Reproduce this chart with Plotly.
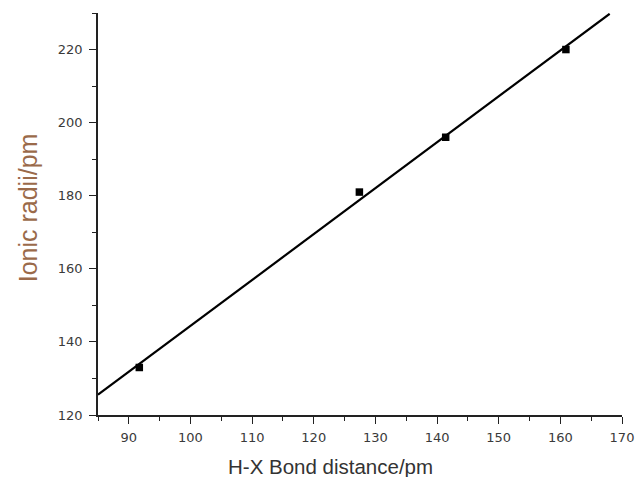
import numpy as np
import plotly.graph_objects as go

# Data
bond_distance = [91.7, 127.4, 141.4, 160.9]   # H-X bond distance / pm
ionic_radii = [133, 181, 196, 220]            # ionic radius / pm
fit_x_range = [85, 168]                       # extent of fitted line

x_ticks = [90, 100, 110, 120, 130, 140, 150, 160, 170]
y_ticks = [120, 140, 160, 180, 200, 220]

slope, intercept = np.polyfit(bond_distance, ionic_radii, 1)
fit_x = np.array(fit_x_range, dtype=float)
fit_y = slope * fit_x + intercept

fig = go.Figure()
fig.add_trace(go.Scatter(
    x=fit_x, y=fit_y, mode="lines",
    line=dict(color="black", width=2.2), showlegend=False, hoverinfo="skip"))
fig.add_trace(go.Scatter(
    x=bond_distance, y=ionic_radii, mode="markers",
    marker=dict(symbol="square", size=7.5, color="black"), showlegend=False))

axis_common = dict(
    showgrid=False, zeroline=False, showline=True, linecolor="#222",
    linewidth=1.5, ticks="outside", ticklen=7, tickwidth=1.3, tickcolor="#222",
    tickfont=dict(family="DejaVu Sans", size=13, color="#3a3a3a"),
    mirror=False, automargin=False, ticklabeloverflow="allow",
)

fig.update_layout(
    width=638, height=477, autosize=False,
    margin=dict(l=97.5, r=16, t=13, b=62),
    paper_bgcolor="white", plot_bgcolor="white",
    xaxis=dict(range=[85, 170], tickvals=x_ticks, ticklabelstandoff=3,
               minor=dict(dtick=5, tick0=85, ticks="outside", ticklen=4,
                          tickwidth=1.3, tickcolor="#222"),
               **axis_common),
    yaxis=dict(range=[120, 230], tickvals=y_ticks, ticklabelstandoff=4,
               minor=dict(dtick=10, tick0=120, ticks="outside", ticklen=4,
                          tickwidth=1.3, tickcolor="#222"),
               **axis_common),
    annotations=[
        dict(text="H-X Bond distance/pm", xref="paper", yref="paper",
             x=0.443, y=-0.127, xanchor="center", yanchor="middle",
             showarrow=False,
             font=dict(family="Liberation Sans", size=20.5, color="#333")),
        dict(text="Ionic radii/pm", xref="paper", yref="paper",
             x=-0.133, y=0.515, xanchor="center", yanchor="middle",
             textangle=-90, showarrow=False,
             font=dict(family="Liberation Sans", size=25, color="#9a6a4a")),
    ],
)

fig.write_html(
    "out.html",
    config=dict(displayModeBar=False, responsive=False),
    post_script="document.body.style.margin='0';document.body.style.overflow='hidden';",
)
